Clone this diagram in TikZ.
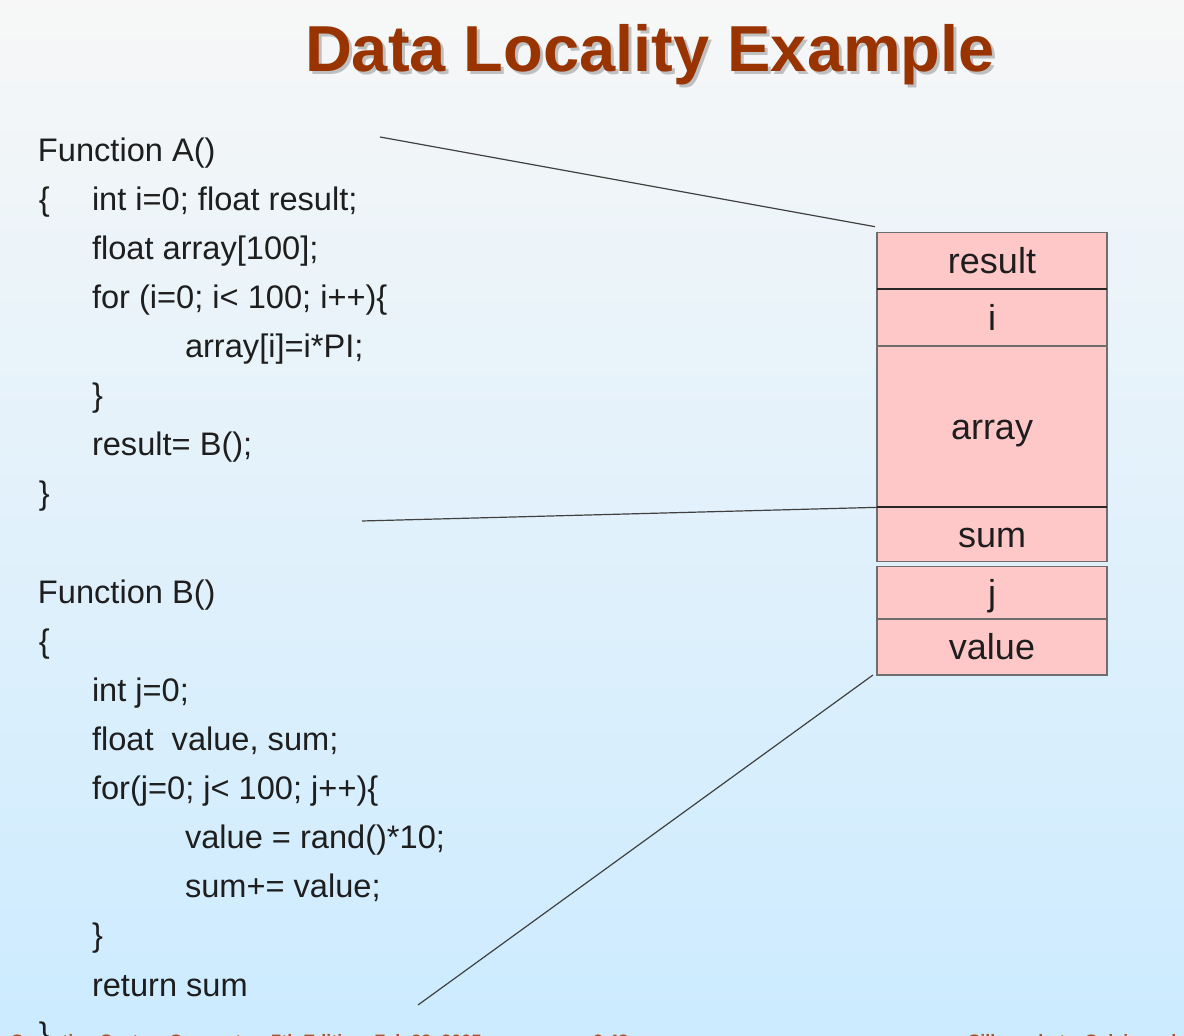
\documentclass[tikz,border=0pt]{standalone}
\usepackage{fontspec}
\setmainfont{Liberation Sans}
\usetikzlibrary{calc}
\definecolor{titlered}{RGB}{153,51,0}
\definecolor{codeink}{RGB}{30,30,30}
\definecolor{cellfill}{RGB}{255,200,200}
\definecolor{cellrule}{RGB}{110,110,110}
\definecolor{bgtop}{RGB}{247,247,247}
\definecolor{bgmid}{RGB}{230,241,251}
\definecolor{bgbot}{RGB}{204,235,255}
\definecolor{footred}{RGB}{175,80,40}

\begin{document}
\begin{tikzpicture}[x=0.5pt,y=-0.5pt,
  code/.style={anchor=base west, inner sep=0pt, outer sep=0pt,
    font=\fontsize{16.3}{19}\selectfont, text=codeink},
  cell/.style={draw=cellrule, line width=0.6pt, fill=cellfill,
    minimum width=115pt, inner sep=0pt, outer sep=0pt,
    font=\fontsize{18}{21}\selectfont, text=codeink,
    text height=13pt, text depth=0pt},
  sepline/.style={line width=1.1pt, draw=black!85},
  link/.style={line width=0.6pt, draw=black!75},
  foot/.style={anchor=base west, inner sep=0pt,
    font=\fontsize{9}{11}\selectfont\bfseries, text=footred},
  heading/.style={anchor=base, inner sep=0pt,
    font=\fontsize{32.5}{39}\selectfont\bfseries}]

\useasboundingbox (0,0) rectangle (1184,1036);
\clip (0,0) rectangle (1184,1036);

% background
\shade[top color=bgtop, middle color=bgmid, bottom color=bgbot]
  (0,0) rectangle (1184,1036);

% title with soft shadow
\node[heading, text=black, opacity=0.22] at (653,75) {Data Locality Example};
\node[heading, text=titlered] (title) at (650,72) {Data Locality Example};

% function A
\node[code] (fa1) at (38,162) {Function A()};
\node[code] (fa2) at (39,211) {\{};
\node[code] (fa2b) at (92,211) {int i=0; float result;};
\node[code] (fa3) at (92,260) {float array[100];};
\node[code] (fa4) at (92,309) {for (i=0; i< 100; i++)\{};
\node[code] (fa5) at (185,358) {array[i]=i*PI;};
\node[code] (fa6) at (92,407) {\}};
\node[code] (fa7) at (92,456) {result= B();};
\node[code] (fa8) at (39,505) {\}};

% function B
\node[code] (fb1) at (38,604) {Function B()};
\node[code] (fb2) at (39,653) {\{};
\node[code] (fb3) at (92,702) {int j=0;};
\node[code] (fb4) at (92,751) {float\ \ value, sum;};
\node[code] (fb5) at (92,800) {for(j=0; j< 100; j++)\{};
\node[code] (fb6) at (185,849) {value = rand()*10;};
\node[code] (fb7) at (185,898) {sum+= value;};
\node[code] (fb8) at (92,947) {\}};
\node[code] (fb9) at (92,996) {return sum};
\node[code] (fb10) at (39,1045) {\}};

% stack frames
\node[cell, minimum height=28.3pt] (cres) at (992,261) {result};
\node[cell, minimum height=28.35pt] (ci) at (992,317.7) {i};
\node[cell, minimum height=80.65pt] (carr) at (992,426.7) {array};
\node[cell, minimum height=27.2pt] (csum) at (992,534.5) {sum};
\node[cell, minimum height=26.15pt] (cj) at (992,592.8) {j};
\node[cell, minimum height=28pt] (cval) at (992,647) {value};

\draw[sepline] (cres.south west) -- (cres.south east);
\draw[sepline] (carr.south west) -- (carr.south east);

% frame boundary links
\coordinate (la) at (380,137);
\coordinate (lb) at (362,521);
\coordinate (lc) at (418,1005);
\draw[link] (la) -- ($(cres.north west)+(-2,-6)$);
\draw[link] (lb) -- (carr.south west);
\draw[link] (lc) -- ($(cval.south west)+(-4,0)$);

% footer
\node[foot] (fl) at (10,1047) {Operating System Concepts -- 7th Edition, Feb 22, 2005};
\node[foot] (fc) at (593,1047) {9.48};
\node[foot] (fr) at (968,1047) {Silberschatz, Galvin and Gagne \textcopyright 2005};
\end{tikzpicture}
\end{document}
